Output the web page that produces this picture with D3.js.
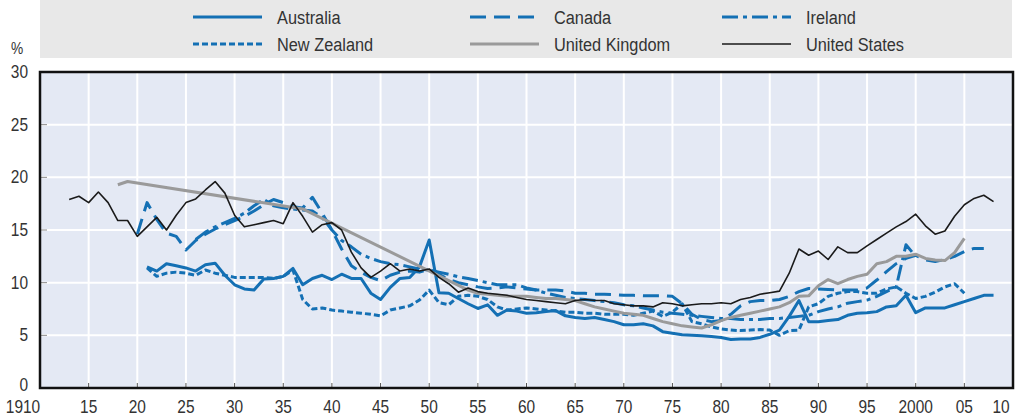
<!DOCTYPE html>
<html>
<head>
<meta charset="utf-8">
<script src="https://cdn.jsdelivr.net/npm/d3@7"></script>
<style>
  body { margin: 0; background: #fff; }
  svg text { font-family: "Liberation Sans", Arial, sans-serif; fill: #333; }
</style>
</head>
<body>
<svg id="chart" width="1017" height="418"></svg>
<script>
const margin = { top: 72, right: 4, bottom: 30, left: 40 };
const W = 1017, H = 418;
const width = W - margin.left - margin.right;
const height = H - margin.top - margin.bottom;

// series: start year + yearly values
const usStart = 1913;
const usValues = [17.9, 18.2, 17.6, 18.6, 17.6, 15.9, 15.9, 14.4, 15.3, 16.2,
  15.0, 16.4, 17.6, 17.95, 18.8, 19.6, 18.5, 16.4, 15.3, 15.5,
  15.7, 15.9, 15.6, 17.6, 16.3, 14.8, 15.5, 15.7, 15.0, 12.9,
  11.4, 10.5, 11.1, 11.8, 11.1, 11.3, 11.1, 11.3, 10.5, 9.9,
  9.1, 9.5, 9.15, 9.0, 8.9, 8.8, 8.6, 8.4, 8.3, 8.2,
  8.1, 8.0, 8.3, 8.4, 8.3, 8.3, 8.0, 7.9, 7.8, 7.8,
  7.7, 8.1, 8.0, 7.8, 7.9, 8.0, 8.0, 8.1, 8.0, 8.4,
  8.6, 8.9, 9.05, 9.2, 10.9, 13.2, 12.6, 13.0, 12.2, 13.4,
  12.85, 12.85, 13.5, 14.1, 14.7, 15.3, 15.8, 16.5, 15.4, 14.6,
  14.9, 16.3, 17.4, 18.0, 18.3, 17.7];

const ukYears = [1918, 1919, 1937, 1954, 1955, 1956, 1957, 1958, 1959, 1960,
  1961, 1962, 1963, 1964, 1965, 1966, 1967, 1968, 1969, 1970,
  1971, 1972, 1973, 1974, 1975, 1976, 1977, 1978, 1979, 1980,
  1981, 1982, 1983, 1984, 1985, 1986, 1987, 1988, 1989, 1990,
  1991, 1992, 1993, 1994, 1995, 1996, 1997, 1998, 1999, 2000,
  2001, 2002, 2003, 2004, 2005];
const ukValues = [19.3, 19.6, 17.0, 9.3, 9.0, 8.9, 8.8, 8.7, 8.7, 8.7,
  8.6, 8.5, 8.5, 8.4, 8.3, 8.0, 7.7, 7.5, 7.3, 7.1,
  7.0, 6.9, 6.6, 6.3, 6.1, 5.9, 5.8, 5.7, 6.0, 6.4,
  6.7, 6.9, 7.1, 7.3, 7.5, 7.7, 8.1, 8.7, 8.75, 9.7,
  10.3, 9.9, 10.3, 10.6, 10.8, 11.8, 12.0, 12.5, 12.5, 12.7,
  12.3, 12.15, 12.1, 12.85, 14.2];

const auStart = 1921;
const auValues = [11.5, 11.1, 11.8, 11.6, 11.4, 11.1, 11.7, 11.85, 10.7, 9.8,
  9.4, 9.3, 10.35, 10.4, 10.6, 11.35, 9.8, 10.4, 10.7, 10.3,
  10.8, 10.4, 10.4, 9.0, 8.4, 9.55, 10.4, 10.5, 11.5, 14.05,
  9.05, 9.0, 8.5, 8.0, 7.55, 7.9, 6.9, 7.4, 7.3, 7.1,
  7.15, 7.25, 7.35, 6.85, 6.7, 6.6, 6.7, 6.5, 6.3, 6.0,
  6.0, 6.1, 5.9, 5.35, 5.2, 5.05, 5.0, 4.95, 4.9, 4.8,
  4.6, 4.65, 4.65, 4.8, 5.1, 5.5, 6.8, 8.3, 6.3, 6.3,
  6.4, 6.5, 6.9, 7.1, 7.15, 7.25, 7.7, 7.8, 8.8, 7.15,
  7.6, 7.6, 7.6, 7.9, 8.2, 8.5, 8.8, 8.8];

const caStart = 1920;
const caValues = [14.6, 17.6, 16.0, 14.7, 14.4, 13.1, 14.0, 14.6, 15.1, 15.5,
  15.9, 16.3, 16.8, 17.4, 17.9, 17.6, 17.2, 17.1, 18.1, 16.6,
  15.0, 13.2, 11.6, 11.0, 10.5, 10.2, 10.7, 11.0, 11.1, 11.0,
  11.3, 10.8, 10.3, 10.0, 9.8, 9.6, 9.45, 9.5, 9.6, 9.5,
  9.4, 9.3, 9.3, 9.3, 9.2, 9.0, 9.0, 8.9, 8.9, 8.85,
  8.8, 8.8, 8.75, 8.75, 8.75, 8.7, 8.0, 7.0, 6.5, 6.3,
  6.4, 7.0, 7.8, 8.2, 8.3, 8.3, 8.4, 8.7, 9.15, 9.45,
  9.4, 9.35, 9.3, 9.3, 9.3, 9.5, 10.25, 11.05, 11.8, 12.3,
  12.6, 12.15, 12.0, 12.2, 12.5, 12.95, 13.25, 13.25];

const ieStart = 1926;
const ieValues = [14.1, 14.8, 15.3, 15.7, 16.1, 16.6, 17.3, 17.9, 17.3, 17.1,
  17.0, 16.9, 16.8, 16.2, 15.0, 14.0, 13.4, 12.7, 12.3, 12.0,
  11.8, 11.7, 11.5, 11.3, 11.2, 11.0, 10.8, 10.55, 10.4, 10.2,
  10.0, 9.8, 9.8, 9.8, 9.5, 9.3, 9.0, 8.8, 8.6, 8.5,
  8.4, 8.3, 8.2, 8.1, 7.9, 7.8, 7.6, 7.4, 7.2, 7.1,
  7.0, 6.9, 6.8, 6.7, 6.6, 6.6, 6.5, 6.5, 6.5, 6.6,
  6.6, 6.7, 6.8, 6.9, 7.25, 7.5, 7.7, 8.05, 8.2, 8.35,
  8.7, 9.15, 9.6, 13.6, 12.5];

const nzStart = 1921;
const nzValues = [11.4, 10.6, 10.9, 11.0, 10.9, 10.7, 11.2, 10.9, 10.7, 10.5,
  10.5, 10.5, 10.5, 10.4, 10.6, 11.2, 8.4, 7.5, 7.6, 7.4,
  7.3, 7.2, 7.1, 7.0, 6.85, 7.4, 7.6, 7.8, 8.35, 9.3,
  8.1, 7.9, 8.7, 8.8, 8.7, 8.4, 7.7, 7.4, 7.5, 7.6,
  7.5, 7.4, 7.3, 7.2, 7.2, 7.1, 7.1, 7.0, 7.0, 7.0,
  6.9, 7.1, 7.3, 6.8, 7.2, 8.0, 6.3, 6.1, 5.8, 5.6,
  5.5, 5.45, 5.5, 5.55, 5.5, 5.0, 5.45, 5.5, 7.7, 8.0,
  8.7, 9.0, 9.15, 9.15, 9.0, 9.0, 9.4, 9.6, 9.0, 8.5,
  8.7, 9.1, 9.6, 9.9, 9.0];

const xTicks = [1910, 1915, 1920, 1925, 1930, 1935, 1940, 1945, 1950, 1955, 1960,
  1965, 1970, 1975, 1980, 1985, 1990, 1995, 2000, 2005, 2010];
const xTickLabels = ["1910", "15", "20", "25", "30", "35", "40", "45", "50", "55", "60",
  "65", "70", "75", "80", "85", "90", "95", "2000", "05", "10"];
const yTicks = [0, 5, 10, 15, 20, 25, 30];

const blue = "#1470b4";
const series = [
  { name: "Australia", start: auStart, values: auValues, color: blue, w: 3, dash: null },
  { name: "Canada", start: caStart, values: caValues, color: blue, w: 3, dash: "16,8" },
  { name: "Ireland", start: ieStart, values: ieValues, color: blue, w: 3, dash: "16,5,4,5" },
  { name: "New Zealand", start: nzStart, values: nzValues, color: blue, w: 3, dash: "6,3" },
  { name: "United Kingdom", years: ukYears, values: ukValues, color: "#9a9a9a", w: 3, dash: null },
  { name: "United States", start: usStart, values: usValues, color: "#1a1a1a", w: 1.6, dash: null }
];
series.forEach(s => {
  s.points = s.values.map((v, i) => ({ year: s.years ? s.years[i] : s.start + i, value: v }));
});

const svg = d3.select("#chart");

// narrow text: regular face squeezed horizontally
function label(sel, tx, ty, str, anchor, size) {
  return sel.append("text")
    .attr("transform", `translate(${tx},${ty}) scale(0.86,1)`)
    .attr("text-anchor", anchor)
    .style("font-size", size + "px")
    .text(str);
}

// legend box
const legend = svg.append("g");
legend.append("rect")
  .attr("x", 40).attr("y", 0).attr("width", 972).attr("height", 58)
  .attr("fill", "#e8e8e8");
const legCols = [193, 470, 722];
const legRows = [17, 44];
series.forEach((s, i) => {
  const lx = legCols[i % 3], ly = legRows[Math.floor(i / 3)];
  legend.append("line")
    .attr("x1", lx).attr("x2", lx + 69).attr("y1", ly).attr("y2", ly)
    .attr("stroke", s.color).attr("stroke-width", s.w)
    .attr("stroke-dasharray", s.dash);
  label(legend, lx + 84, ly + 7, s.name, "start", 19);
});

const g = svg.append("g")
  .attr("transform", `translate(${margin.left},${margin.top})`);

const x = d3.scaleLinear().domain([1910, 2010]).range([0, width]);
const y = d3.scaleLinear().domain([0, 30]).range([height, 0]);

g.append("rect")
  .attr("width", width).attr("height", height)
  .attr("fill", "#e4e9f4");

// grid
g.selectAll(".vgrid")
  .data(xTicks.slice(1, -1))
  .join("line")
  .attr("x1", d => x(d)).attr("x2", d => x(d))
  .attr("y1", 0).attr("y2", height)
  .attr("stroke", "#fff").attr("stroke-width", 2);
g.selectAll(".hgrid")
  .data(yTicks.slice(1, -1))
  .join("line")
  .attr("x1", 0).attr("x2", width)
  .attr("y1", d => y(d)).attr("y2", d => y(d))
  .attr("stroke", "#fff").attr("stroke-width", 2);

// small inner ticks
g.selectAll(".xt")
  .data(xTicks.slice(1, -1))
  .join("line")
  .attr("x1", d => x(d)).attr("x2", d => x(d))
  .attr("y1", height).attr("y2", height - 5)
  .attr("stroke", "#555").attr("stroke-width", 1);
g.selectAll(".yt")
  .data(yTicks.slice(1, -1))
  .join("line")
  .attr("x1", 0).attr("x2", 7)
  .attr("y1", d => y(d)).attr("y2", d => y(d))
  .attr("stroke", "#888").attr("stroke-width", 1);

// lines
const line = d3.line()
  .defined(d => d.value != null)
  .x(d => x(d.year))
  .y(d => y(d.value));

g.selectAll(".series")
  .data(series)
  .join("path")
  .attr("fill", "none")
  .attr("stroke", d => d.color)
  .attr("stroke-width", d => d.w)
  .attr("stroke-dasharray", d => d.dash)
  .attr("stroke-linejoin", "round")
  .attr("d", d => line(d.points));

// frame
g.append("rect")
  .attr("width", width).attr("height", height)
  .attr("fill", "none").attr("stroke", "#111").attr("stroke-width", 2.5);

// axis labels
xTicks.forEach((d, i) => {
  const shift = i === 0 ? -17 : i === xTicks.length - 1 ? -12 : 0;
  label(g, x(d) + shift, height + 25, xTickLabels[i], "middle", 18);
});
yTicks.forEach(d => {
  label(g, -12, y(d) + (d === 0 ? 3 : 6), String(d), "end", 18);
});

label(svg, 17, 54, "%", "middle", 16);
</script>
</body>
</html>
